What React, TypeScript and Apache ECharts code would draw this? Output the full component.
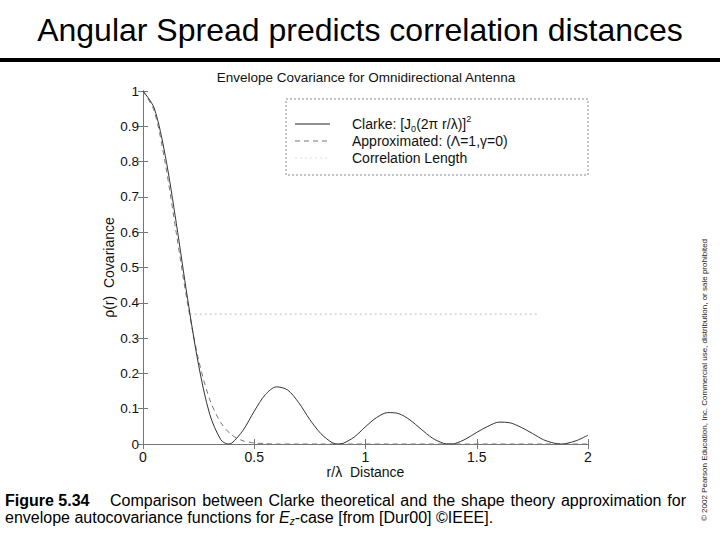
import React, { useEffect, useRef } from "react";
import * as echarts from "echarts";

// Distance r/λ and values
const distances = [0, 0.05, 0.1, 0.15, 0.2, 0.25, 0.3, 0.35, 0.383, 0.4, 0.45, 0.5, 0.55, 0.6, 0.65, 0.7, 0.75, 0.8, 0.85, 0.879, 0.9, 0.95, 1.0, 1.05, 1.1, 1.15, 1.2, 1.25, 1.3, 1.35, 1.377, 1.4, 1.45, 1.5, 1.55, 1.6, 1.65, 1.7, 1.75, 1.8, 1.85, 1.877, 1.9, 1.95, 2.0];
const clarke = [1, 0.952, 0.817, 0.624, 0.413, 0.223, 0.084, 0.012, 0, 0.003, 0.039, 0.093, 0.14, 0.162, 0.153, 0.117, 0.069, 0.029, 0.004, 0, 0.002, 0.02, 0.049, 0.075, 0.089, 0.086, 0.068, 0.042, 0.017, 0.002, 0, 0.001, 0.014, 0.033, 0.05, 0.062, 0.06, 0.047, 0.03, 0.012, 0.002, 0, 0.001, 0.01, 0.025];

const approxDistances = [0, 0.05, 0.1, 0.15, 0.2, 0.25, 0.3, 0.35, 0.4, 0.45, 0.5, 0.55, 0.6, 0.7, 0.8, 1.0, 1.5, 2.0];
const approximated = [1, 0.944, 0.795, 0.596, 0.399, 0.238, 0.126, 0.06, 0.025, 0.009, 0.003, 0.001, 0, 0, 0, 0, 0, 0];

const corrDistances = [0.21, 1.77];
const corrLength = [0.368, 0.368];

const xTicks = [0, 0.5, 1, 1.5, 2];
const yTicks = [0, 0.1, 0.2, 0.3, 0.4, 0.5, 0.6, 0.7, 0.8, 0.9, 1];

const captionLabel = "Figure 5.34";
const captionLine1 = "Comparison between Clarke theoretical and the shape theory approximation for";

const FONT = "Liberation Sans, Arial, Helvetica, sans-serif";

function pairs(xs: number[], ys: number[]) {
  return xs.map((x, i) => [x, ys[i]]);
}

function measure(text: string, size: number, weight: string = "normal") {
  const t = new echarts.graphic.Text({ style: { text, fontSize: size, fontFamily: FONT, fontWeight: weight as any } });
  return t.getBoundingRect().width;
}

export default function App() {
  const ref = useRef<HTMLDivElement>(null);
  useEffect(() => {
    if (!ref.current) return;
    const chart = echarts.init(ref.current, undefined, { renderer: "svg" });
    const axisLine = { show: true, lineStyle: { color: "#777", width: 1 } };
    const axisTick = { show: true, inside: true, length: 5, lineStyle: { color: "#777" } };

    // justified first caption line
    const words = captionLine1.split(" ");
    const widths = words.map((w) => measure(w, 16));
    const startX = 110;
    const endX = 686;
    const total = widths.reduce((a, b) => a + b, 0);
    const gap = (endX - startX - total) / (words.length - 1);
    let cx = startX;
    const wordEls = words.map((w, i) => {
      const el = {
        type: "text",
        x: cx,
        y: 500,
        style: { text: w, fontSize: 16, fontFamily: FONT, fill: "#000", verticalAlign: "middle" },
      };
      cx += widths[i] + gap;
      return el;
    });

    chart.setOption({
      animation: false,
      backgroundColor: "#fff",
      textStyle: { fontFamily: FONT },
      grid: { left: 143, right: 132, top: 91, bottom: 96, show: false },
      xAxis: [
        {
          type: "value",
          min: xTicks[0],
          max: xTicks[xTicks.length - 1],
          interval: 0.5,
          position: "bottom",
          axisLine,
          axisTick,
          splitLine: { show: false },
          axisLabel: { color: "#111", fontSize: 14, margin: 6, fontFamily: FONT },
          name: "r/λ  Distance",
          nameLocation: "middle",
          nameGap: 21,
          nameMoveOverlap: false,
          nameTextStyle: { color: "#111", fontSize: 14, fontFamily: FONT },
        },
        {
          type: "value",
          min: xTicks[0],
          max: xTicks[xTicks.length - 1],
          interval: 0.5,
          position: "top",
          axisLine,
          axisTick,
          splitLine: { show: false },
          axisLabel: { show: false },
        },
      ],
      yAxis: [
        {
          type: "value",
          min: yTicks[0],
          max: yTicks[yTicks.length - 1],
          interval: 0.1,
          position: "left",
          axisLine,
          axisTick,
          splitLine: { show: false },
          axisLabel: { color: "#111", fontSize: 13.5, margin: 4, fontFamily: FONT },
          name: "ρ(r)  Covariance",
          nameLocation: "middle",
          nameGap: 27,
          nameMoveOverlap: false,
          nameTextStyle: { color: "#111", fontSize: 14, fontFamily: FONT },
        },
        {
          type: "value",
          min: yTicks[0],
          max: yTicks[yTicks.length - 1],
          interval: 0.1,
          position: "right",
          axisLine,
          axisTick,
          splitLine: { show: false },
          axisLabel: { show: false },
        },
      ],
      series: [
        {
          name: "Correlation Length",
          type: "line",
          data: pairs(corrDistances, corrLength),
          symbol: "none",
          lineStyle: { color: "#bbb", width: 1, type: [2, 3] },
        },
        {
          name: "Approximated",
          type: "line",
          data: pairs(approxDistances, approximated),
          symbol: "none",
          smooth: 0.3,
          lineStyle: { color: "#777", width: 1, type: [5, 4] },
        },
        {
          name: "Clarke",
          type: "line",
          data: pairs(distances, clarke),
          symbol: "none",
          smooth: 0.3,
          lineStyle: { color: "#333", width: 1 },
        },
      ],
      graphic: [
        {
          type: "text",
          left: "center",
          top: 14,
          style: { text: "Angular Spread predicts correlation distances", fontSize: 32, fontFamily: FONT, fill: "#000" },
        },
        {
          type: "rect",
          shape: { x: 0, y: 58, width: 720, height: 4 },
          style: { fill: "#000" },
        },
        {
          type: "text",
          x: 366,
          y: 77,
          style: { text: "Envelope Covariance for Omnidirectional Antenna", fontSize: 13.5, fontFamily: FONT, fill: "#111", align: "center", verticalAlign: "middle" },
        },
        {
          type: "rect",
          shape: { x: 286, y: 99, width: 302, height: 76 },
          style: { fill: "#fff", stroke: "#888", lineWidth: 1, lineDash: [2, 2] },
          z: 10,
        },
        { type: "line", shape: { x1: 295, y1: 124, x2: 330, y2: 124 }, style: { stroke: "#222", lineWidth: 1 }, z: 11 },
        { type: "line", shape: { x1: 295, y1: 141, x2: 330, y2: 141 }, style: { stroke: "#777", lineWidth: 1, lineDash: [5, 4] }, z: 11 },
        { type: "line", shape: { x1: 295, y1: 158, x2: 330, y2: 158 }, style: { stroke: "#ddd", lineWidth: 1, lineDash: [2, 3] }, z: 11 },
        {
          type: "text",
          x: 352,
          y: 124,
          z: 11,
          style: {
            text: "Clarke: [J{sub|0}(2π r/λ)]{sup|2}",
            fontSize: 14,
            fontFamily: FONT,
            fill: "#111",
            verticalAlign: "middle",
            rich: {
              sub: { fontSize: 9, fontFamily: FONT, fill: "#111", padding: [10, 0, 0, 0] },
              sup: { fontSize: 9, fontFamily: FONT, fill: "#111", padding: [0, 0, 10, 0] },
            },
          },
        },
        {
          type: "text",
          x: 352,
          y: 141,
          z: 11,
          style: { text: "Approximated: (Λ=1,γ=0)", fontSize: 14, fontFamily: FONT, fill: "#111", verticalAlign: "middle" },
        },
        {
          type: "text",
          x: 352,
          y: 158,
          z: 11,
          style: { text: "Correlation Length", fontSize: 14, fontFamily: FONT, fill: "#111", verticalAlign: "middle" },
        },
        {
          type: "text",
          x: 5,
          y: 500,
          style: { text: captionLabel, fontSize: 16, fontWeight: "bold", fontFamily: FONT, fill: "#000", verticalAlign: "middle" },
        },
        ...wordEls,
        {
          type: "text",
          x: 5,
          y: 517,
          style: {
            text: "envelope autocovariance functions for {i|E}{s|z}-case [from [Dur00] ©IEEE].",
            fontSize: 16,
            fontFamily: FONT,
            fill: "#000",
            verticalAlign: "middle",
            rich: {
              i: { fontSize: 16, fontStyle: "italic", fontFamily: FONT, fill: "#000" },
              s: { fontSize: 10, fontStyle: "italic", fontFamily: FONT, fill: "#000", padding: [8, 0, 0, 0] },
            },
          },
        },
        {
          type: "text",
          x: 704,
          y: 380,
          rotation: Math.PI / 2,
          style: {
            text: "© 2002 Pearson Education, Inc. Commercial use, distribution, or sale prohibited",
            fontSize: 8,
            fontFamily: FONT,
            fill: "#222",
            align: "center",
            verticalAlign: "middle",
          },
        },
      ],
    });
    return () => chart.dispose();
  }, []);
  return <div ref={ref} style={{ position: "fixed", left: 0, top: 0, width: 720, height: 540, background: "#fff" }} />;
}
